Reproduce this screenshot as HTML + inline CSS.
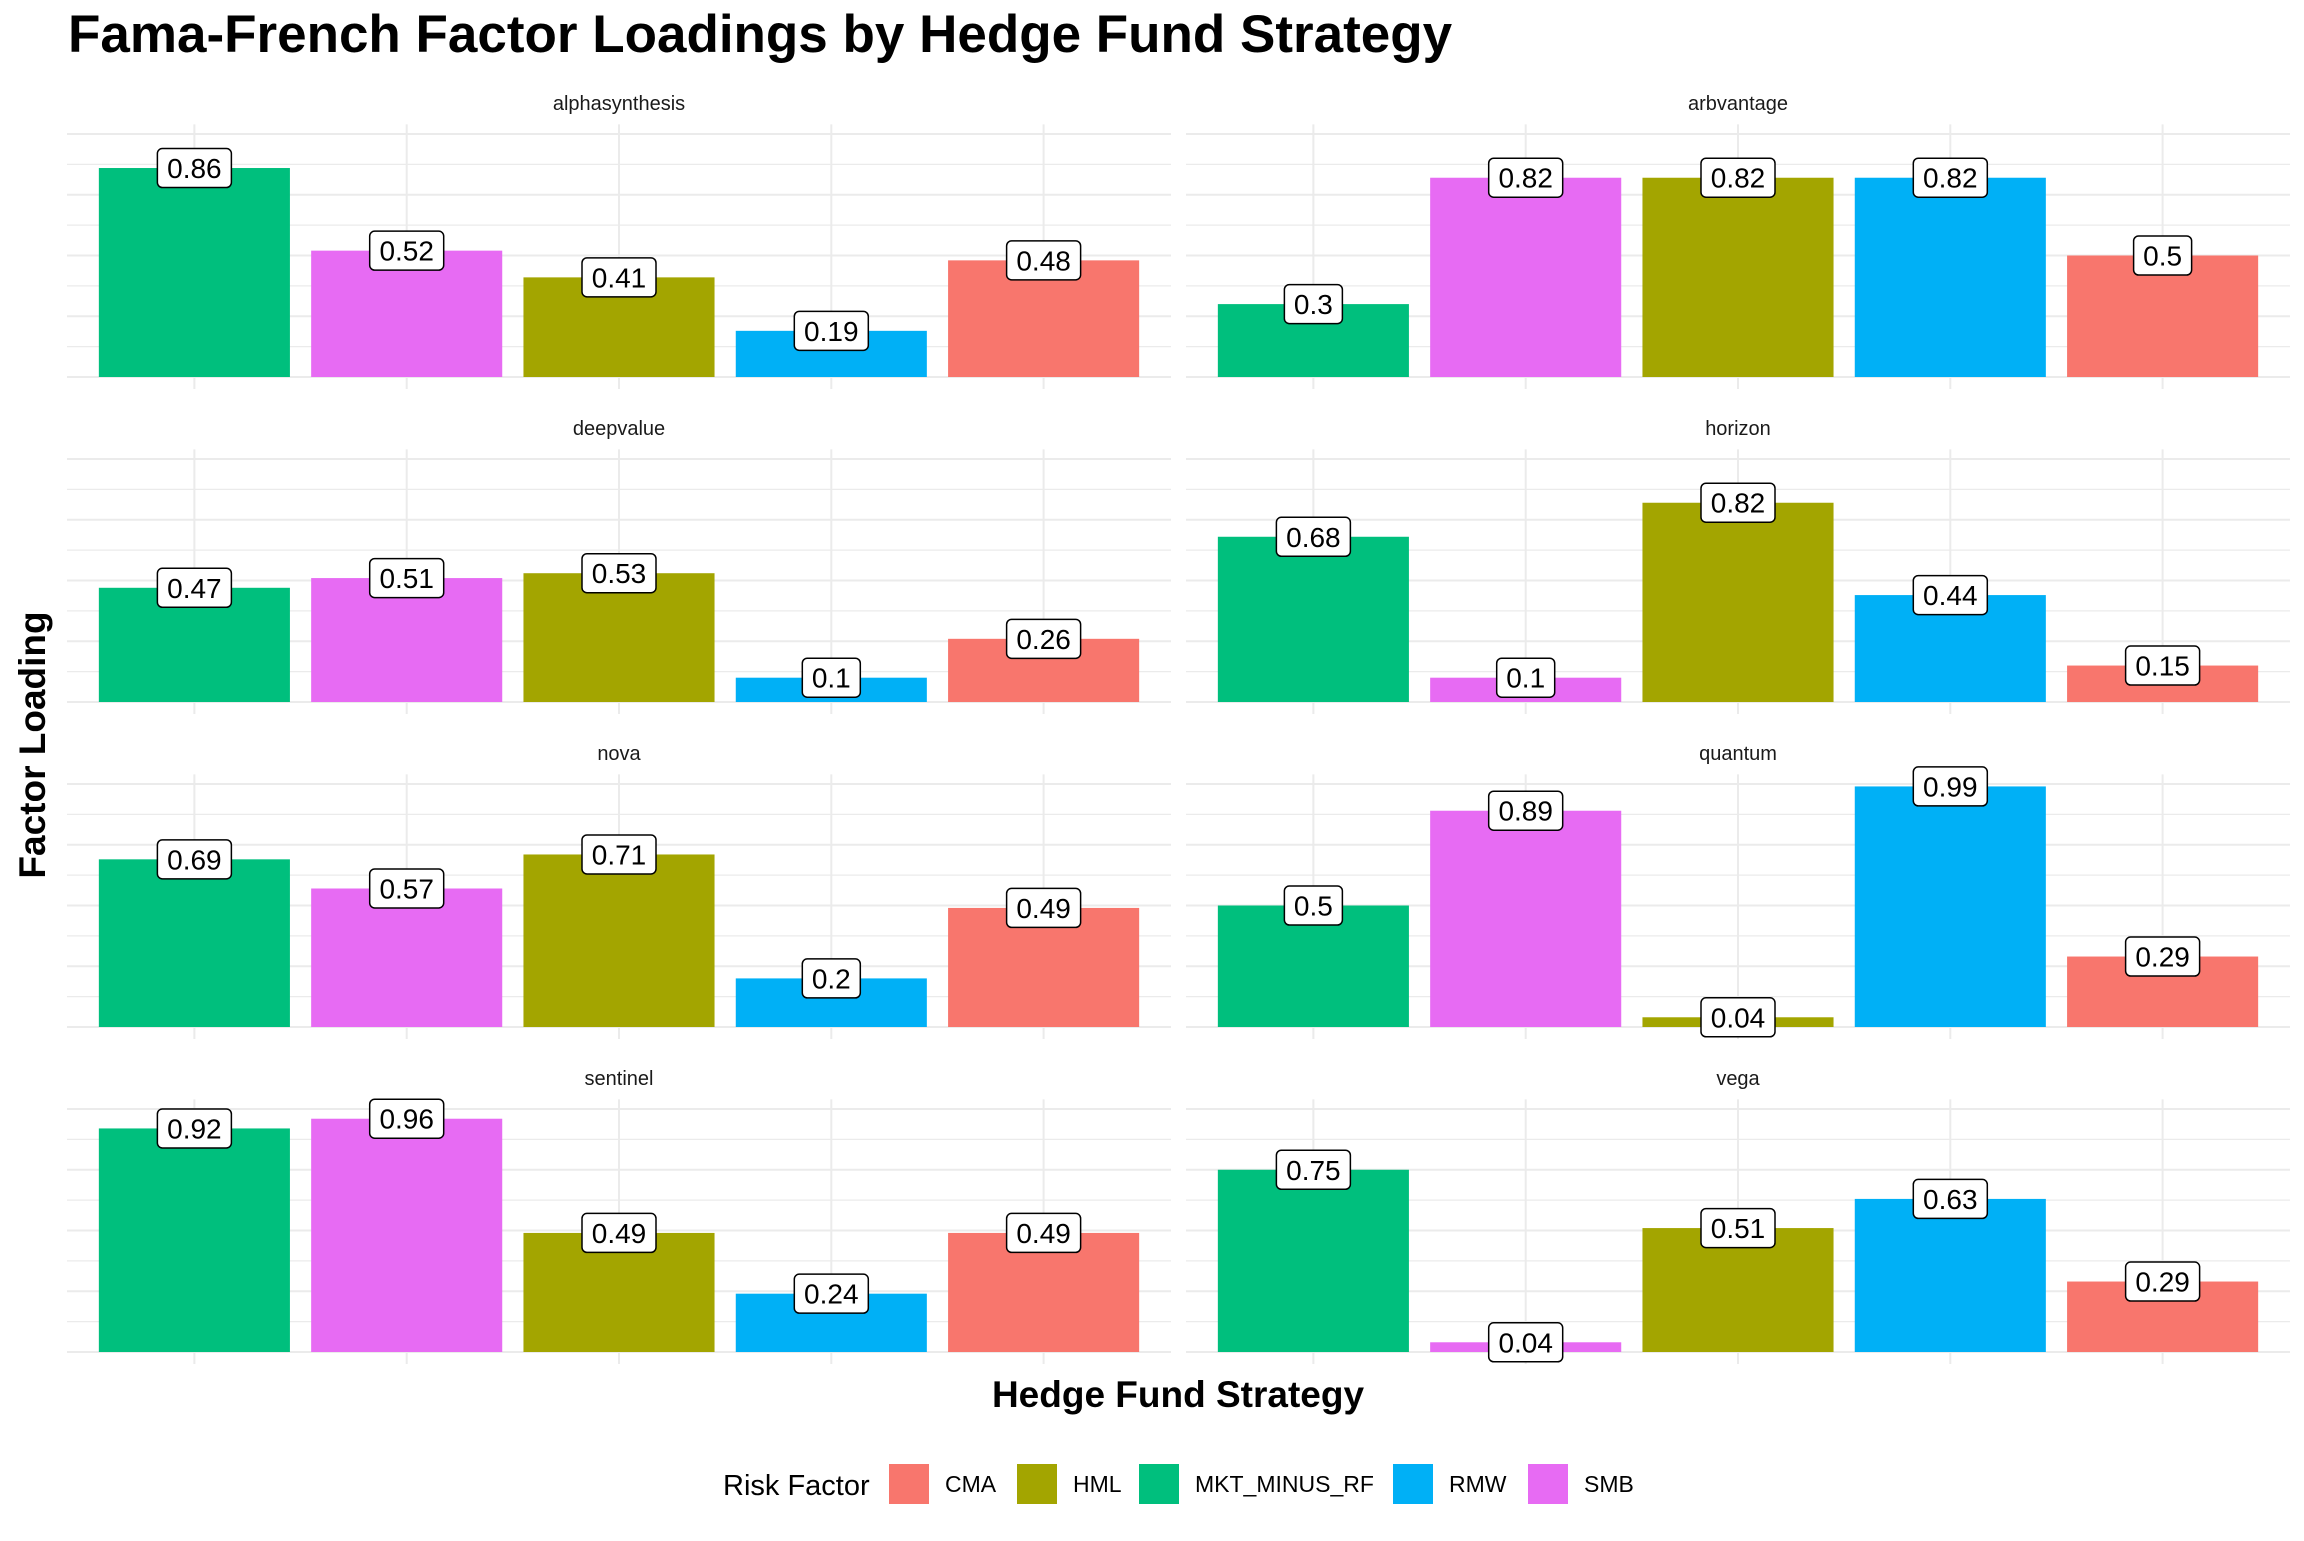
<!DOCTYPE html>
<html><head><meta charset="utf-8">
<style>
body{margin:0;background:#fff;}
svg text{font-family:"Liberation Sans",Arial,sans-serif;}
</style></head>
<body>
<svg id="chart" width="2304" height="1536" viewBox="0 0 2304 1536" xmlns="http://www.w3.org/2000/svg">
<rect width="2304" height="1536" fill="#fff"/>
<text x="68" y="52" font-size="53" font-weight="bold" fill="#000">Fama-French Factor Loadings by Hedge Fund Strategy</text>
<text transform="translate(45,745) rotate(-90)" text-anchor="middle" font-size="37" font-weight="bold">Factor Loading</text>
<text x="1178" y="1407" text-anchor="middle" font-size="37" font-weight="bold">Hedge Fund Strategy</text>
<g id="panels"></g>
<g id="legend"></g>
</svg>
<script>
const strategies=["alphasynthesis","arbvantage","deepvalue","horizon","nova","quantum","sentinel","vega"];
const factors=["MKT_MINUS_RF","SMB","HML","RMW","CMA"];
const mktValues=[0.86,0.3,0.47,0.68,0.69,0.5,0.92,0.75];
const smbValues=[0.52,0.82,0.51,0.1,0.57,0.89,0.96,0.04];
const hmlValues=[0.41,0.82,0.53,0.82,0.71,0.04,0.49,0.51];
const rmwValues=[0.19,0.82,0.1,0.44,0.2,0.99,0.24,0.63];
const cmaValues=[0.48,0.5,0.26,0.15,0.49,0.29,0.49,0.29];
const legendFactors=["CMA","HML","MKT_MINUS_RF","RMW","SMB"];
const colors={MKT_MINUS_RF:"#00BF7D",SMB:"#E76BF3",HML:"#A3A500",RMW:"#00B0F6",CMA:"#F8766D"};
const series=[mktValues,smbValues,hmlValues,rmwValues,cmaValues];

const NS="http://www.w3.org/2000/svg";
function mk(tag,attrs,parent){const e=document.createElementNS(NS,tag);for(const k in attrs)e.setAttribute(k,attrs[k]);parent.appendChild(e);return e;}
const panelsG=document.getElementById('panels');
const colX=[67,1186], panelW=1104;
const rowZero=[377,702,1027,1352];
const unit=243;
const yMax=Math.max(...series.flat());
const yMin=-0.05*yMax, yTop=yMax*1.05;
strategies.forEach((s,i)=>{
  const col=i%2,row=Math.floor(i/2);
  const x0=colX[col],z=rowZero[row];
  const yS=v=>z-v*unit;
  const xS=k=>x0+(k+0.6)*panelW/5.2;
  const g=mk('g',{},panelsG);
  
  
  const top=yS(yTop),bot=yS(yMin);
  for(let v=0;v<=1.0001;v+=0.125){
    const gl=mk('line',{x1:x0,x2:x0+panelW,y1:yS(v),y2:yS(v),stroke:'#ebebeb','stroke-width':Math.round(v*8)%2===0?2:1.2},g);
    
    
  }
  for(let k=0;k<5;k++){
    const vl=mk('line',{x1:xS(k),x2:xS(k),y1:top,y2:bot,stroke:'#ebebeb','stroke-width':2},g);
    
    
  }
  const st=mk('text',{x:x0+panelW/2,y:110,'text-anchor':'middle','font-size':20,fill:'#1a1a1a'},g);
  st.textContent=s;
  st.setAttribute('transform','translate(0,'+(z-377)+')');
  
  
  const bw=0.9*panelW/5.2;
  factors.forEach((f,k)=>{
    const v=series[k][i];
    const r=mk('rect',{x:xS(k)-bw/2,y:yS(v),width:bw,height:v*unit,fill:colors[f]},g);
    
    
  });
  factors.forEach((f,k)=>{
    const v=series[k][i];
    const txt=String(v);
    const w=txt.length*16+10;
    const lb=mk('rect',{x:xS(k)-w/2,y:yS(v)-19.5,width:w,height:39,rx:5,fill:'#fff',stroke:'#000','stroke-width':1.5},g);
    
    
    const t=mk('text',{x:xS(k),y:yS(v)+10,'text-anchor':'middle','font-size':28,fill:'#000'},g);
    t.textContent=txt;
    
    
  });
});
const lg=document.getElementById('legend');
const lt=mk('text',{x:723,y:1495,'font-size':29,fill:'#000'},lg);
lt.textContent='Risk Factor';


const keyX=[889,1017,1139,1393,1528];
legendFactors.forEach((f,i)=>{
  const r=mk('rect',{x:keyX[i],y:1464,width:40,height:40,fill:colors[f]},lg);
  
  
  const t=mk('text',{x:keyX[i]+56,y:1492,'font-size':23,fill:'#000'},lg);
  t.textContent=f;
  
  
});
</script>
</body></html>
